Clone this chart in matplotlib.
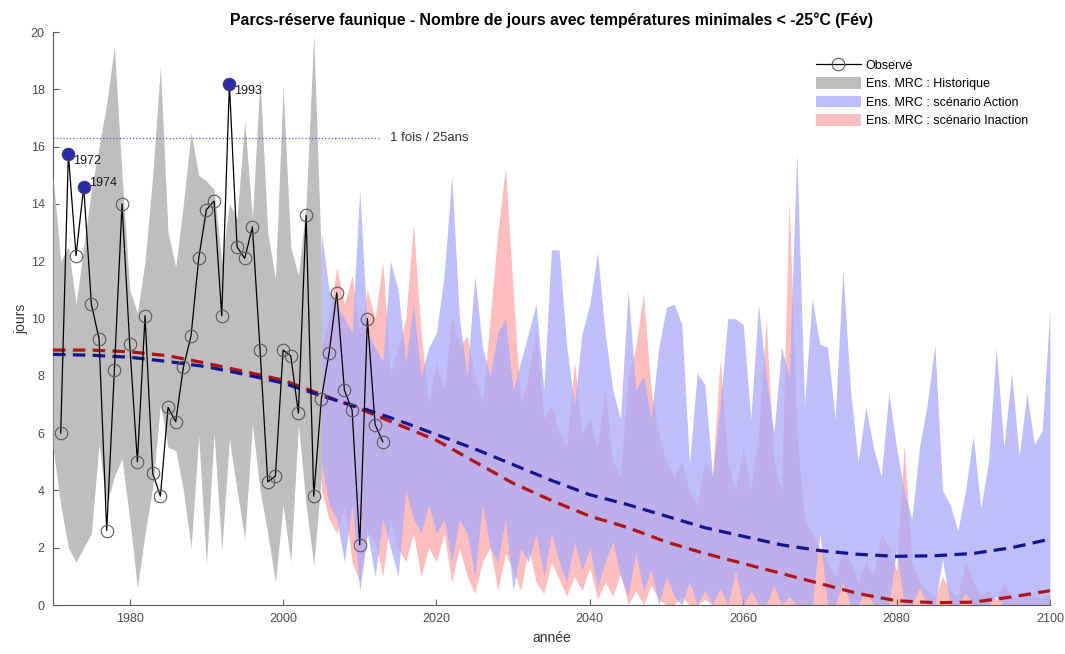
import matplotlib
matplotlib.use("Agg")
import matplotlib.pyplot as plt
from matplotlib.lines import Line2D
from matplotlib.patches import Patch

plt.rcParams["font.family"] = ["Liberation Sans", "DejaVu Sans"]

# observed values (1971-2013)
obs_years = list(range(1971, 2014))
obs_vals = [6.0, 15.75, 12.2, 14.6, 10.5, 9.3, 2.6, 8.2, 14.0, 9.1,
            5.0, 10.1, 4.6, 3.8, 6.9, 6.4, 8.3, 9.4, 12.1, 13.8,
            14.1, 10.1, 18.2, 12.5, 12.1, 13.2, 8.9, 4.3, 4.5, 8.9,
            8.7, 6.7, 13.6, 3.8, 7.2, 8.8, 10.9, 7.5, 6.8, 2.1,
            10.0, 6.3, 5.7]

record_years = [1972, 1974, 1993]
record_vals = [15.75, 14.6, 18.2]

# historical ensemble envelope (1970-2005)
hist_years = list(range(1970, 2006))
hist_hi = [15.0, 12.0, 12.5, 10.5, 12.5, 14.5, 16.0, 17.5, 19.5, 15.0,
           11.0, 10.2, 12.0, 15.0, 18.8, 13.0, 11.8, 14.0, 16.5, 15.0,
           14.8, 14.5, 12.0, 14.0, 13.5, 16.9, 13.5, 18.4, 13.0, 11.4,
           18.1, 12.5, 11.5, 14.0, 19.9, 12.0]
hist_lo = [5.5, 3.5, 2.0, 1.5, 2.0, 2.5, 5.6, 3.5, 4.5, 5.1,
           3.0, 0.6, 2.5, 4.1, 7.0, 5.5, 5.4, 4.0, 2.0, 5.9,
           1.4, 6.0, 1.9, 5.8, 4.0, 2.3, 6.3, 4.0, 2.5, 0.8,
           3.5, 1.5, 6.3, 3.5, 1.4, 4.5]

# scenario envelopes (2005-2100)
fut_years = list(range(2005, 2101))
act_hi = [13.0, 11.0, 10.5, 10.0, 9.5, 14.5, 9.5, 9.0, 8.5, 12.0,
          11.0, 8.5, 10.5, 8.0, 9.0, 9.5, 11.5, 15.0, 10.0, 8.0,
          11.5, 9.0, 8.0, 9.5, 10.0, 7.5, 8.5, 9.5, 10.5, 7.5,
          12.4, 12.4, 9.0, 7.0, 9.5, 10.5, 12.3, 9.5, 7.5, 6.5,
          11.0, 7.5, 8.0, 6.5, 9.0, 10.4, 10.5, 9.8, 4.9, 8.1,
          7.7, 4.5, 7.0, 10.0, 10.0, 9.8, 6.5, 10.5, 8.0, 6.0,
          9.0, 8.0, 15.8, 7.0, 10.7, 9.1, 9.0, 6.5, 11.7, 7.5,
          5.0, 6.9, 5.5, 4.5, 7.4, 5.5, 4.0, 3.0, 5.5, 7.0,
          9.1, 4.0, 3.5, 2.6, 4.0, 5.9, 3.4, 5.0, 9.0, 5.5,
          8.1, 5.2, 7.4, 5.6, 6.1, 10.3]
act_lo = [5.0, 3.5, 3.0, 1.5, 3.5, 0.5, 2.5, 1.0, 3.0, 2.0,
          1.0, 4.0, 3.0, 2.5, 3.5, 2.5, 3.0, 1.5, 3.0, 2.5,
          1.0, 3.5, 2.0, 1.5, 3.0, 0.5, 2.0, 1.5, 2.5, 1.0,
          2.5, 1.5, 0.8, 2.2, 1.2, 2.0, 0.6, 1.5, 2.2, 1.0,
          0.3, 1.8, 0.5, 1.2, 0.0, 1.0, 0.3, 0.0, 0.8, 0.0,
          0.5, 0.0, 0.6, 0.0, 1.2, 0.0, 0.5, 0.0, 0.0, 0.7,
          0.0, 0.3, 0.0, 0.0, 0.0, 2.5, 0.0, 0.0, 0.8, 0.0,
          0.0, 0.5, 0.0, 0.0, 0.0, 1.9, 0.0, 0.0, 0.6, 0.0,
          0.0, 1.6, 0.0, 0.0, 0.4, 0.0, 0.0, 0.0, 0.3, 0.0,
          0.0, 0.0, 0.0, 0.0, 0.0, 0.0]
inact_hi = [9.0, 10.0, 11.8, 10.5, 11.5, 9.5, 11.0, 10.0, 12.0, 8.0,
            9.0, 10.0, 13.3, 9.5, 7.0, 8.5, 7.5, 10.0, 9.0, 9.4,
            8.0, 7.0, 10.0, 13.0, 15.3, 11.0, 7.0, 8.0, 9.6, 6.5,
            7.0, 6.0, 5.5, 8.5, 6.0, 6.5, 5.5, 7.5, 5.0, 4.5,
            8.0, 9.0, 10.9, 7.5, 6.0, 5.0, 4.5, 5.0, 4.0, 3.5,
            5.0, 4.5, 8.6, 5.0, 4.0, 5.5, 4.0, 6.0, 10.0, 5.0,
            4.0, 14.2, 6.0, 3.0, 2.5, 2.0, 1.5, 1.0, 2.0, 1.5,
            0.8, 1.5, 1.0, 2.5, 2.0, 1.2, 5.6, 1.5, 0.8, 0.5,
            0.3, 1.0, 0.5, 0.3, 1.5, 0.8, 0.3, 0.5, 0.2, 0.8,
            0.3, 0.2, 0.5, 0.3, 0.2, 0.4]
inact_lo = [4.0, 3.0, 2.5, 3.5, 1.5, 0.8, 2.5, 2.2, 1.0, 3.0,
            2.0, 1.5, 2.5, 1.0, 2.0, 1.5, 2.5, 0.8, 2.0, 1.0,
            0.4, 1.5, 2.0, 0.5, 1.8, 1.2, 0.5, 2.0, 0.8, 0.4,
            1.5, 0.9, 0.3, 1.0, 0.5, 1.3, 0.2, 0.8, 0.3, 1.1,
            0.0, 0.5, 0.0, 0.7, 0.2, 0.0, 0.0, 0.3, 0.0, 0.0,
            0.2, 0.0, 0.0, 0.0, 0.0, 0.0, 0.0, 0.0, 0.0, 0.0,
            0.0, 0.0, 0.0, 0.0, 0.0, 0.0, 0.0, 0.0, 0.0, 0.0,
            0.0, 0.0, 0.0, 0.0, 0.0, 0.0, 0.0, 0.0, 0.0, 0.0,
            0.0, 0.0, 0.0, 0.0, 0.0, 0.0, 0.0, 0.0, 0.0, 0.0,
            0.0, 0.0, 0.0, 0.0, 0.0, 0.0]

# smoothed trends, every 5 years
trend_years = list(range(1970, 2101, 5))
trend_action = [8.75, 8.72, 8.65, 8.5, 8.32, 8.05, 7.75, 7.3, 6.9, 6.45,
                5.95, 5.45, 4.9, 4.35, 3.85, 3.5, 3.1, 2.7, 2.4, 2.1,
                1.9, 1.77, 1.7, 1.72, 1.8, 2.0, 2.3]
trend_inaction = [8.9, 8.9, 8.84, 8.7, 8.44, 8.15, 7.85, 7.35, 6.85, 6.3,
                  5.75, 5.0, 4.25, 3.65, 3.1, 2.7, 2.2, 1.8, 1.45, 1.1,
                  0.75, 0.4, 0.15, 0.08, 0.1, 0.28, 0.5]

seuil_25ans = 16.3
seuil_fin = 2012.5

grey = "#bebebe"
pink = "#ffbebe"
blue = (171 / 255, 171 / 255, 248 / 255)
blue_alpha = 0.77

fig = plt.figure(figsize=(10.65, 6.54), dpi=100)
ax = fig.add_axes([0.0498, 0.0749, 0.936, 0.876])

ax.fill_between(fut_years, inact_lo, inact_hi, color=pink, lw=0, zorder=1)
ax.fill_between(fut_years, act_lo, act_hi, color=blue, alpha=blue_alpha, lw=0, zorder=2)
ax.fill_between(hist_years, hist_lo, hist_hi, color=grey, lw=0, zorder=3)

dash = (0, (3.9, 2.3))
ax.plot(trend_years, trend_inaction, color="#b01414", lw=2.3, ls=dash, zorder=4)
ax.plot(trend_years, trend_action, color="#14148c", lw=2.3, ls=dash, zorder=4)

ax.hlines(seuil_25ans, 1970, seuil_fin, colors="#5a5ac8", linestyles=":", lw=0.9, zorder=4)
ax.text(seuil_fin + 1.5, seuil_25ans, "1 fois / 25ans", va="center", fontsize=9.5, color="0.2")

ax.plot(obs_years, obs_vals, color="k", lw=0.9, marker="o", ms=9, mfc="none",
        mec="0.35", mew=0.8, zorder=5)
ax.plot(record_years, record_vals, "o", color="#2c2caa", ms=8, zorder=6)
offsets = [(3.5, -5), (3.5, 3), (3, -5)]
for yr, v, off in zip(record_years, record_vals, offsets):
    ax.annotate(str(yr), (yr, v), xytext=off, textcoords="offset points",
                fontsize=9, va="center", ha="left", color="0.1", zorder=7)

ax.set_xlim(1970, 2100)
ax.set_ylim(0, 20)
ax.set_xticks(range(1980, 2101, 20))
ax.set_yticks(range(0, 21, 2))
for s in ["top", "right"]:
    ax.spines[s].set_visible(False)
for s in ["left", "bottom"]:
    ax.spines[s].set_color("0.35")
ax.tick_params(direction="in", length=4, color="0.35", labelcolor="0.3",
               labelsize=9, pad=6)

ax.set_title("Parcs-réserve faunique - Nombre de jours avec températures minimales < -25°C (Fév)",
             fontsize=11.4, fontweight="bold", pad=5)
ax.set_xlabel("année", fontsize=10, color="0.2", labelpad=4)
ax.set_ylabel("jours", fontsize=10, color="0.2", labelpad=2)

handles = [
    Line2D([], [], color="k", lw=0.9, marker="o", ms=9, mfc="none", mec="0.35", mew=0.8),
    Patch(facecolor=grey, edgecolor="none"),
    Patch(facecolor=blue, alpha=blue_alpha, edgecolor="none"),
    Patch(facecolor=pink, edgecolor="none"),
]
labels = ["Observé", "Ens. MRC : Historique", "Ens. MRC : scénario Action",
          "Ens. MRC : scénario Inaction"]
ax.legend(handles, labels, loc="upper left", bbox_to_anchor=(0.76, 0.962),
          frameon=False, fontsize=9, handlelength=3.6, handleheight=1.0,
          handletextpad=0.4, labelspacing=0.45, borderaxespad=0)

fig.savefig("out.png", dpi=100)
